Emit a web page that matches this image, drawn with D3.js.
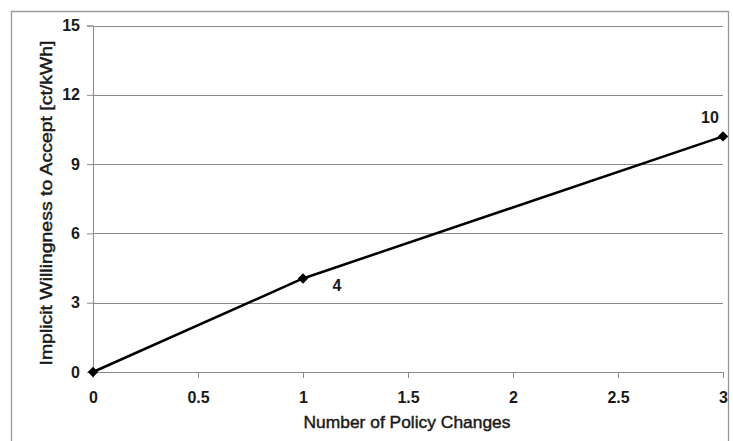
<!DOCTYPE html>
<html><head><meta charset="utf-8">
<script src="https://cdn.jsdelivr.net/npm/d3@7"></script>
<style>
body{margin:0;background:#fff;}
svg{display:block;font-family:"Liberation Sans",Arial,sans-serif;}
</style></head>
<body><svg id="c" width="733" height="441"></svg>
<script>
const xValues = [0, 1, 3];
const yValues = [0, 4.05, 10.2];
const pointLabels = ["", "4", "10"];
const xTicks = [0, 0.5, 1, 1.5, 2, 2.5, 3];
const yTicks = [0, 3, 6, 9, 12, 15];
const xTitle = "Number of Policy Changes";
const yTitle = "Implicit Willingness to Accept [ct/kWh]";

const svg = d3.select("#c");
const x = d3.scaleLinear().domain([0,3]).range([93, 723]);
const y = d3.scaleLinear().domain([0,15]).range([372, 25.5]);
const textCol = "#1a1a1a";

// outer frame
svg.append("path").attr("d", `M11.5,441 V11.5 H728.5 V441`).attr("fill","none").attr("stroke","#9a9a9a").attr("stroke-width",1.3);

// gridlines
svg.append("g").selectAll("line").data(yTicks.filter(d=>d>0)).join("line")
  .attr("x1", x(0)).attr("x2", x(3)).attr("y1", d=>Math.round(y(d))+0.5).attr("y2", d=>Math.round(y(d))+0.5)
  .attr("stroke","#8a8a8a").attr("stroke-width",1);

// y axis
const ya = svg.append("g").attr("transform",`translate(${x(0)},0)`)
  .call(d3.axisLeft(y).tickValues(yTicks).tickSize(6).tickPadding(7).tickFormat(d3.format("d")));
ya.select(".domain").attr("stroke","#8a8a8a");
ya.selectAll(".tick line").attr("stroke","#8a8a8a");
ya.selectAll("text").attr("font-size",16).attr("font-weight","bold").attr("fill",textCol);

// x axis
const xa = svg.append("g").attr("transform",`translate(0,${y(0)})`)
  .call(d3.axisBottom(x).tickValues(xTicks).tickSize(6).tickPadding(14).tickFormat(d=>String(d)));
xa.select(".domain").attr("stroke","#8a8a8a");
xa.selectAll(".tick line").attr("stroke","#8a8a8a");
xa.selectAll("text").attr("font-size",16).attr("font-weight","bold").attr("fill",textCol);

// titles
svg.append("text").attr("x",407).attr("y",428).attr("text-anchor","middle")
  .attr("font-size",17).attr("fill",textCol).attr("stroke",textCol).attr("stroke-width",0.45)
  .attr("textLength",207).attr("lengthAdjust","spacingAndGlyphs")
  .text(xTitle);
svg.append("text").attr("transform",`translate(52,203) rotate(-90)`).attr("text-anchor","middle")
  .attr("font-size",17).attr("fill",textCol).attr("stroke",textCol).attr("stroke-width",0.45)
  .attr("textLength",325).attr("lengthAdjust","spacingAndGlyphs")
  .text(yTitle);

const data = xValues.map((v,i)=>({x:v,y:yValues[i],label:pointLabels[i]}));
svg.append("path").datum(data).attr("fill","none").attr("stroke","#000").attr("stroke-width",2.5)
  .attr("d", d3.line().x(d=>x(d.x)).y(d=>y(d.y)));
svg.append("g").selectAll("path").data(data).join("path")
  .attr("transform", d=>`translate(${x(d.x)},${y(d.y)})`)
  .attr("d", d3.symbol(d3.symbolDiamond2, 70)).attr("fill","#000");

svg.append("g").selectAll("text").data(data).join("text")
  .attr("x", (d,i)=> i===1 ? x(d.x)+34 : x(d.x)-13)
  .attr("y", (d,i)=> i===1 ? y(d.y)+13 : y(d.y)-13)
  .attr("text-anchor","middle").attr("font-size",16).attr("font-weight","bold").attr("fill",textCol)
  .text(d=>d.label);
</script></body></html>
